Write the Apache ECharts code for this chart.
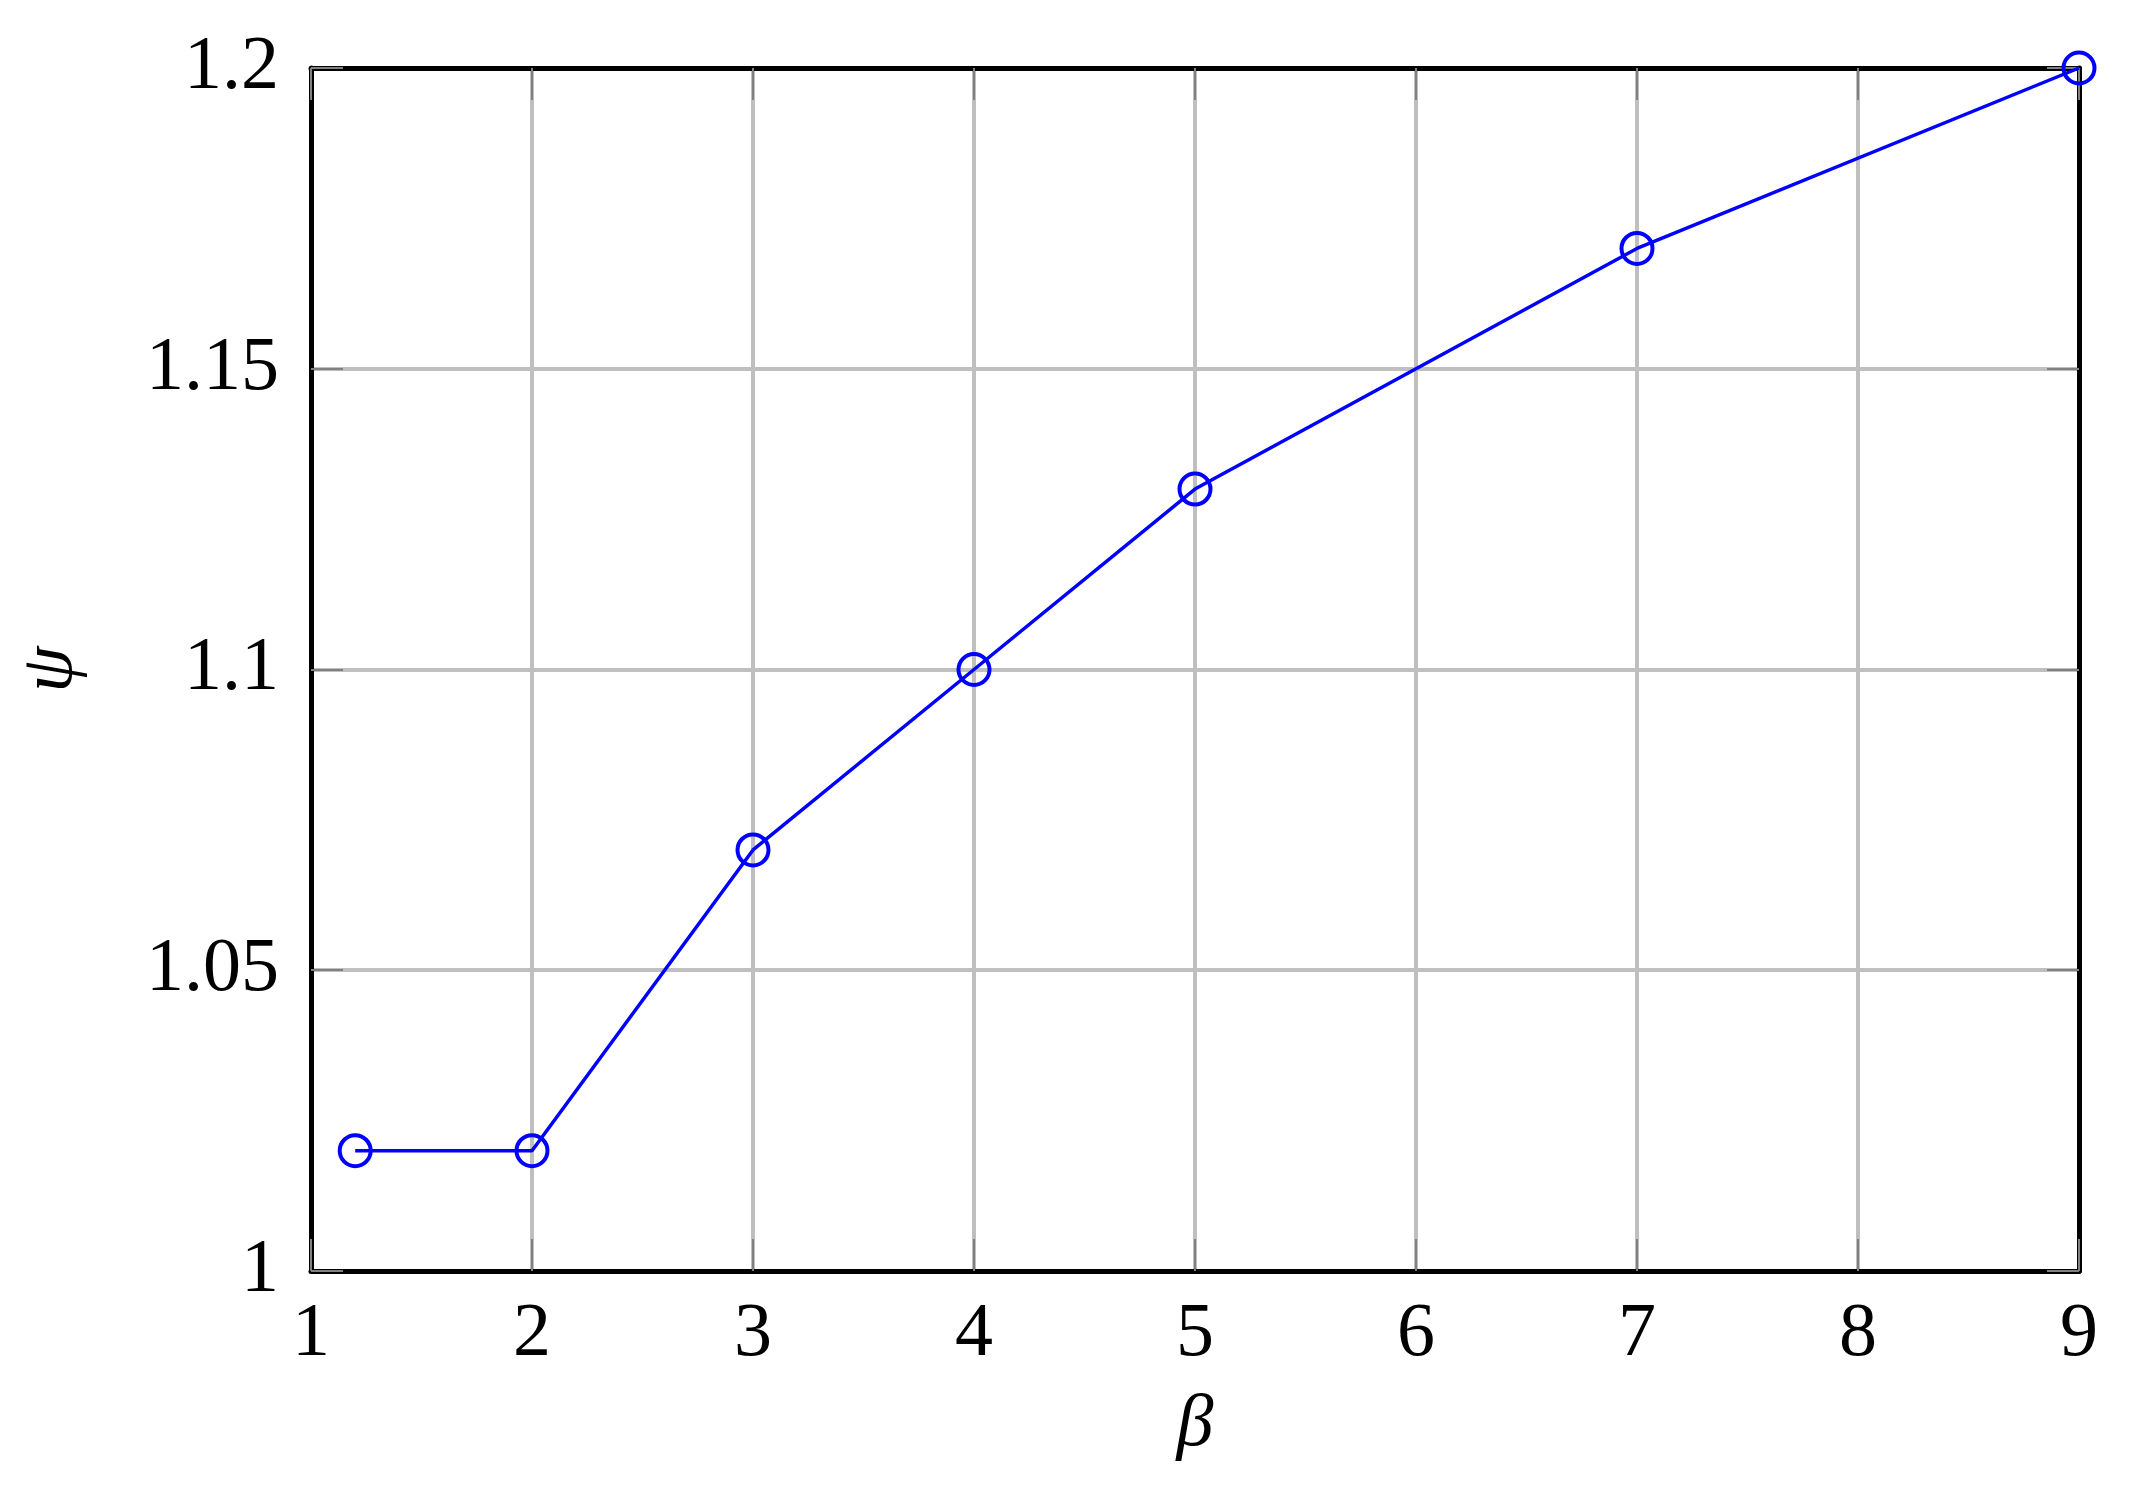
<!DOCTYPE html>
<html>
<head>
    <meta charset="UTF-8">
    <title>psi vs beta</title>
    <script src="https://cdn.jsdelivr.net/npm/echarts@6/dist/echarts.min.js"></script>
    <style>
        *{margin:0;padding:0}
        html,body{width:100%;height:100%;background:#fff}
        #main{width:2138px;height:1507px}
    </style>
</head>
<body>
    <div id="main"></div>
    <script type="text/javascript">
        // data
        var betaVals = [1.2, 2, 3, 4, 5, 7, 9];
        var psiVals = [1.02, 1.02, 1.07, 1.1, 1.13, 1.17, 1.2];
        var xTicks = [1, 2, 3, 4, 5, 6, 7, 8, 9];
        var yTicks = [1, 1.05, 1.1, 1.15, 1.2];

        var points = betaVals.map(function (b, i) { return [b, psiVals[i]]; });
        var serif = '"Liberation Serif", "DejaVu Serif", serif';

        var tick = {show: true, inside: true, length: 32, lineStyle: {color: '#808080', width: 2}};
        var grid = {show: true, lineStyle: {color: '#bfbfbf', width: 4}};
        var axLine = {show: true, onZero: false, lineStyle: {color: '#000', width: 5}};

        var myChart = echarts.init(document.getElementById('main'));
        var option = {
            backgroundColor: '#fff',
            animation: false,
            grid: {left: 311, right: 59, top: 68, bottom: 236},
            xAxis: [{
                type: 'value',
                min: xTicks[0], max: xTicks[xTicks.length - 1], interval: 1,
                name: 'β', nameLocation: 'middle', nameGap: 118,
                nameTextStyle: {fontFamily: serif, fontStyle: 'italic', fontSize: 74, color: '#000'},
                axisLine: axLine, axisTick: tick, splitLine: grid,
                axisLabel: {fontFamily: serif, fontSize: 76, color: '#000', margin: 26}
            }, {
                type: 'value', position: 'top',
                min: xTicks[0], max: xTicks[xTicks.length - 1], interval: 1,
                axisLine: axLine, axisTick: tick, splitLine: {show: false},
                axisLabel: {show: false}
            }],
            yAxis: [{
                type: 'value',
                min: yTicks[0], max: yTicks[yTicks.length - 1], interval: 0.05,
                name: 'ψ', nameLocation: 'middle', nameGap: 222,
                nameTextStyle: {fontFamily: serif, fontStyle: 'italic', fontSize: 74, color: '#000'},
                axisLine: axLine, axisTick: tick, splitLine: grid,
                axisLabel: {fontFamily: serif, fontSize: 76, color: '#000', margin: 32,
                    formatter: function (v) { return String(+v.toFixed(2)); }}
            }, {
                type: 'value', position: 'right',
                min: yTicks[0], max: yTicks[yTicks.length - 1], interval: 0.05,
                axisLine: axLine, axisTick: tick, splitLine: {show: false},
                axisLabel: {show: false}
            }],
            series: [{
                type: 'line',
                data: points,
                symbol: 'circle',
                symbolSize: 31,
                lineStyle: {color: '#0000ff', width: 3.5},
                itemStyle: {color: 'rgba(0,0,0,0)', borderColor: '#0000ff', borderWidth: 4},
                z: 5
            }]
        };
        myChart.setOption(option);
    </script>
</body>
</html>
